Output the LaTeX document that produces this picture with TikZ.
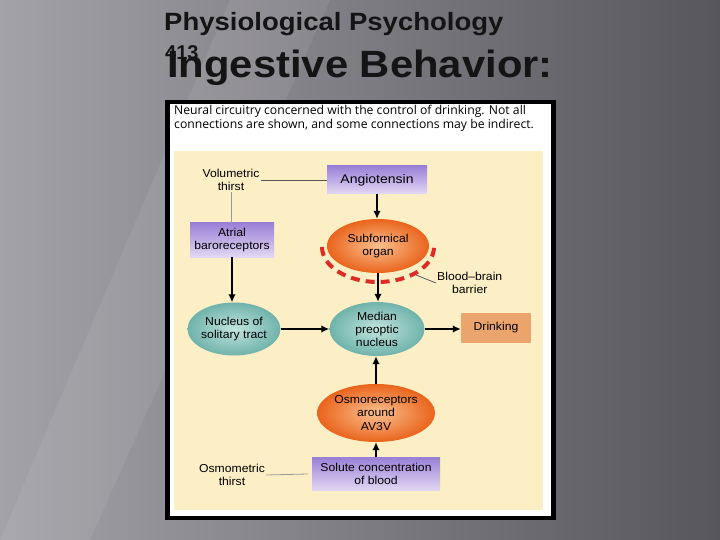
\documentclass[tikz,border=0pt]{standalone}
\usepackage{fontspec}
\setmainfont{Liberation Sans}
\newfontfamily\ttlfont[FakeStretch=1.1]{Liberation Sans}
\newfontfamily\labfont[FakeStretch=1.06]{Liberation Sans}
\newfontfamily\angfont[FakeStretch=1.12]{Liberation Sans}
\newfontfamily\capfont{Open Sans}
\usetikzlibrary{shapes.geometric,arrows.meta}
\definecolor{bgL}{HTML}{A3A2A8}
\definecolor{bgR}{HTML}{58565D}
\definecolor{cream}{HTML}{FCEFC6}
\definecolor{purT}{HTML}{9A80D6}
\definecolor{purB}{HTML}{E2D8F3}
\definecolor{tealI}{HTML}{C2E4DE}
\definecolor{tealO}{HTML}{6FB3AB}
\definecolor{orI}{HTML}{F9C08E}
\definecolor{orO}{HTML}{EA641C}
\definecolor{drink}{HTML}{EBA46B}
\definecolor{bbbred}{HTML}{DD2C24}
\definecolor{lnk}{HTML}{555555}
\tikzset{
  lab/.style={font=\labfont\fontsize{11.5}{13.5}\selectfont, align=center, text=black},
  txt/.style={lab, inner sep=1pt},
  pbox/.style={lab, rectangle, top color=purT, bottom color=purB, inner sep=0pt},
  tealell/.style={lab, ellipse, inner color=tealI, outer color=tealO, inner sep=0pt},
  orell/.style={lab, ellipse, inner color=orI, outer color=orO, inner sep=0pt},
  arr/.style={-{Latex[length=8pt,width=7.5pt]}, line width=1.8pt, black},
  thinln/.style={lnk, line width=0.8pt}
}
\begin{document}
\begin{tikzpicture}[x=1pt,y=-1pt]
\useasboundingbox (0,0) rectangle (720,540);
\shade[left color=bgL, right color=bgR] (0,0) rectangle (720,540);
\fill[white, opacity=0.07] (0,540) -- (90,540) -- (330,0) -- (230,0) -- cycle;
% titles
\node[anchor=base west, inner sep=0, font=\ttlfont\bfseries\fontsize{25}{25}\selectfont, text=black!92] (t1) at (164,31) {Physiological Psychology};
\node[anchor=base west, inner sep=0, font=\ttlfont\bfseries\fontsize{38}{38}\selectfont, text=black!92] (t2) at (167,78) {Ingestive Behavior:};
\node[anchor=base west, inner sep=0, font=\bfseries\fontsize{20}{20}\selectfont, text=black!92] (t3) at (165,60) {413};
% frame
\fill[black] (165,100) rectangle (556,520);
\fill[white] (170,104) rectangle (551,516);
\fill[cream] (174,151) rectangle (543,510);
\node[anchor=base west, inner sep=0, align=left, font=\capfont\fontsize{12.2}{14.3}\selectfont] (cap) at (174,129)
  {Neural circuitry concerned with the control of drinking. Not all\\connections are shown, and some connections may be indirect.};
% nodes
\node[txt] (vol) at (231,180) {Volumetric\\thirst};
\node[pbox, minimum width=100pt, minimum height=28pt, font=\angfont\fontsize{12.5}{14}\selectfont] (ang) at (377,180) {Angiotensin};
\node[pbox, minimum width=84pt, minimum height=34pt] (atr) at (232,240) {Atrial\\baroreceptors};
\node[orell, minimum width=102pt, minimum height=54pt] (sfo) at (378,246) {Subfornical\\organ};
\node[txt, anchor=west] (bbb) at (436,283) {Blood–brain\\barrier};
\node[tealell, minimum width=92pt, minimum height=53pt] (nst) at (234,329) {Nucleus of\\solitary tract};
\node[tealell, minimum width=95pt, minimum height=54pt, font=\labfont\fontsize{11.5}{13}\selectfont] (mpn) at (377,329) {Median\\preoptic\\nucleus};
\node[rectangle, lab, fill=drink, minimum width=70pt, minimum height=30pt] (drk) at (496,328) {Drinking};
\node[orell, minimum width=96pt, minimum height=58pt, font=\labfont\fontsize{11.5}{13.5}\selectfont] (osm) at (376,413) {Osmoreceptors\\around\\AV3V};
\node[pbox, minimum width=128pt, minimum height=33pt] (sol) at (376,474) {Solute concentration\\of blood};
\node[txt] (omt) at (232,475) {Osmometric\\thirst};
% blood-brain barrier
\draw[bbbred, line width=4pt, dash pattern=on 9pt off 6pt] (322,247) arc[start angle=180, end angle=0, x radius=56, y radius=35];
\coordinate (bp) at (416,275);
\draw[thinln] (bp) -- (bbb.west);
% connectors
\draw[thinln] (vol.east) -- (ang.west);
\draw[thinln, lnk!60] (vol.south) -- (vol.south |- atr.north);
\draw[thinln, lnk!60] (omt.east) -- ([xshift=-4pt]sol.west);
\draw[arr] (ang.south) -- (ang.south |- sfo.north);
\draw[arr] (sfo.south) -- (sfo.south |- mpn.north);
\draw[arr] (atr.south) -- (atr.south |- nst.north);
\draw[arr] (nst.east) -- (mpn.west);
\draw[arr] (mpn.east) -- (mpn.east -| drk.west);
\draw[arr] (osm.north) -- (osm.north |- mpn.south);
\draw[arr] (sol.north) -- (sol.north |- osm.south);
\end{tikzpicture}
\end{document}
